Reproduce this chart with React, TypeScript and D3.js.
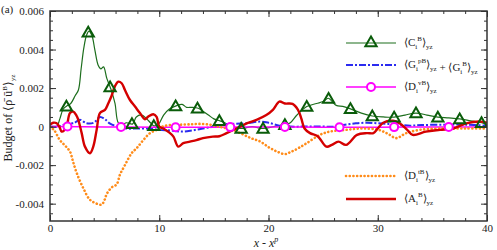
import React, { useRef, useEffect } from "react";
import * as d3 from "d3";

// budget terms along x - x^p
const cX = [0, 0.6, 0.9, 1.2, 1.53, 1.9, 2.3, 2.6, 2.85, 3.1, 3.35, 3.57, 3.85, 4.1, 4.4, 4.65, 4.9, 5.2, 5.58, 5.95, 6.25, 6.6, 7.0, 7.57, 7.9, 8.4, 8.85, 9.2, 9.5, 9.9, 10.4, 10.9, 11.6, 12.1, 12.5, 13.0, 13.57, 14.0, 14.5, 15.0, 15.55, 16.0, 16.6, 17.5, 18.5, 19.5, 20.5, 21.5, 22.0, 22.6, 23.5, 24.4, 25.0, 25.47, 26.2, 26.8, 27.5, 28.5, 29.5, 30.5, 31.5, 32.5, 33.5, 34.5, 35.5, 36.5, 37.5, 38.5, 39.5, 40];
const cV = [0, 0, 0.0004, 0.0009, 0.00107, 0.0012, 0.0016, 0.0019, 0.003, 0.0041, 0.00475, 0.00496, 0.0047, 0.004, 0.0032, 0.003, 0.0031, 0.0025, 0.00194, 0.0012, 0.0002, 0.0001, 0.0002, 0.00014, 0.0005, 0.0006, 0.0004, 0.0002, 0.00004, 0.0001, 0.0006, 0.0009, 0.00109, 0.00115, 0.001, 0.001, 0.00095, 0.0008, 0.0006, 0.0004, 0.0003, 0.0002, 0, -0.0001, 0, -0.0001, 0, 0.0001, 0.0002, 0.0006, 0.00104, 0.0012, 0.0013, 0.00147, 0.0011, 0.00105, 0.00092, 0.0007, 0.00055, 0.0005, 0.00049, 0.0006, 0.0007, 0.0006, 0.00049, 0.00045, 0.0004, 0.0003, 0.0002, 0.0001];

const gX = [0, 0.8, 1.3, 1.8, 2.13, 2.74, 3.35, 4.0, 4.57, 5.0, 5.5, 6.2, 7.0, 8.0, 9.0, 10.0, 11.0, 12.0, 13.0, 14.0, 15.0, 16.0, 17.0, 18.0, 19.2, 20.0, 21.0, 22.0, 23.0, 24.0, 25.0, 26.0, 27.0, 28.0, 29.0, 30.0, 31.0, 32.0, 33.0, 34.0, 36.0, 38.0, 40.0];
const gV = [0, 0, 0.0001, 0.0002, 0.00017, 0.00035, 0.00017, 0.0002, 0.0005, 0.0004, 0.00015, 0, -0.0001, -0.0001, -0.0001, -0.00017, -0.0002, -0.00026, -0.0002, -0.0001, 0, 0.0001, 0.00015, 0.00017, 0.00026, 0.0002, 0.00005, 0, 0, 0, 0, 0, 0.0001, 0.00017, 0.0002, 0.00017, 0.00014, 0.0001, 0.00005, 0.00008, 0.0001, 0.0001, 0.00005];

const dvX = [0, 5, 10, 15, 20, 25, 30, 35, 40];
const dvV = [0.00001, -0.00002, -0.00003, -0.00003, -0.00002, -0.00003, -0.00003, -0.00002, -0.00002];

const dtX = [0, 0.4, 0.9, 1.4, 1.83, 2.1, 2.44, 3.05, 3.66, 4.27, 4.73, 5.0, 5.19, 5.64, 6.1, 6.4, 6.86, 7.47, 7.93, 8.54, 9.15, 9.76, 10.3, 11.0, 12.0, 13.0, 13.7, 14.6, 15.4, 16.2, 17.4, 18.4, 19.25, 20.1, 20.8, 21.5, 22.1, 22.8, 23.5, 24.7, 25.6, 27.1, 28.6, 30.1, 31.0, 31.7, 32.6, 33.85, 35.7, 38, 40];
const dtV = [0, -0.0002, -0.0007, -0.001, -0.0013, -0.0018, -0.0024, -0.0032, -0.0038, -0.004, -0.00405, -0.0038, -0.0035, -0.00316, -0.003, -0.0025, -0.002, -0.00138, -0.00112, -0.0007, -0.00034, -0.00017, 0, 0.00008, 0.0001, 0.00012, 0.00014, 0.0001, 0, -0.0001, -0.00034, -0.0006, -0.00078, -0.0011, -0.0013, -0.00143, -0.0013, -0.0011, -0.00086, -0.00043, -0.00026, -0.00017, -0.0001, -0.00017, -0.0004, -0.0006, -0.00034, -0.00017, -0.0001, -0.0001, -0.0001];

const aX = [0, 0.3, 0.61, 0.85, 1.07, 1.3, 1.52, 1.83, 2.13, 2.4, 2.59, 2.9, 3.2, 3.66, 3.96, 4.27, 4.57, 5.03, 5.33, 5.64, 5.95, 6.25, 6.56, 6.86, 7.32, 7.78, 8.23, 8.69, 9.0, 9.45, 9.76, 10.0, 10.37, 10.9, 11.3, 11.74, 12.2, 12.8, 13.4, 14.0, 14.9, 15.5, 16.16, 17.07, 18.0, 18.9, 19.8, 20.4, 21.0, 21.5, 22.2, 22.7, 23.0, 23.3, 23.8, 24.5, 25.3, 25.8, 26.4, 27.1, 28.1, 29.0, 29.6, 30.0, 30.5, 31.4, 32.0, 32.7, 33.2, 34.4, 35.7, 36.9, 38.1, 39.4, 40];
const aV = [0.0001, 0.0002, 0.00017, 0, -0.00026, -0.0002, 0, 0.0007, 0.00078, 0.0006, 0.00035, -0.00034, -0.00104, -0.00138, -0.00104, -0.00017, 0.0007, 0.00087, 0.0012, 0.0016, 0.0021, 0.00233, 0.00225, 0.0019, 0.00138, 0.00104, 0.0007, 0.00038, 0.00052, 0.00064, 0.0005, 0, -0.0001, -0.0003, -0.00052, -0.00104, -0.00086, -0.00078, -0.0007, -0.0006, -0.00052, -0.0005, -0.00034, -0.0001, 0.00017, 0.00035, 0.0006, 0.00087, 0.0013, 0.0012, 0.00118, 0.00087, 0.00043, -0.0001, -0.00034, -0.0005, -0.00104, -0.00095, -0.00078, -0.00095, -0.00043, -0.00034, -0.00034, -0.0001, 0.0002, 0.0003, 0.00017, -0.00017, -0.00043, -0.00026, -0.00017, -0.0001, 0.00017, 0.00026, 0.0002];

// where the symbols sit on the lines
const triangleX = [1.5, 3.5, 5.5, 7.5, 9.5, 11.5, 13.5, 15.5, 17.5, 19.5, 21.5, 23.5, 25.5, 27.5, 29.5, 31.5, 33.5, 35.5, 37.5, 39.5];
const circleX = [1.6, 6.5, 11.5, 16.5, 21.5, 26.5, 31.5, 36.5];

const xTicks = [0, 10, 20, 30, 40];
const yTicks = [-0.004, -0.002, 0, 0.002, 0.004, 0.006];

const W = 497;
const H = 250;
const m = { left: 50, right: 10, top: 11, bottom: 29 };

function interp(xs, vs, x) {
  const i = Math.max(1, d3.bisectLeft(xs, x));
  const t = (x - xs[i - 1]) / (xs[i] - xs[i - 1]);
  return vs[i - 1] + t * (vs[i] - vs[i - 1]);
}

function App() {
  const svgRef = useRef();

  useEffect(() => {
    const svg = d3.select(svgRef.current);
    svg.selectAll("*").remove();

    const x = d3.scaleLinear().domain([0, 40]).range([m.left, W - m.right]);
    const y = d3.scaleLinear().domain([-0.0049, 0.006]).range([H - m.bottom, m.top]);

    svg.append("defs").append("clipPath").attr("id", "plotclip")
      .append("rect")
      .attr("x", m.left).attr("y", m.top)
      .attr("width", W - m.left - m.right).attr("height", H - m.top - m.bottom);

    const plot = svg.append("g").attr("clip-path", "url(#plotclip)");
    const line = d3.line().curve(d3.curveCatmullRom.alpha(0.5)).x((d) => x(d[0])).y((d) => y(d[1]));
    const pts = (xs, vs) => xs.map((v, i) => [v, vs[i]]);

    const series = [
      { xs: cX, vs: cV, color: "#1d6e1d", w: 1.2, dash: null, cap: "butt" },
      { xs: gX, vs: gV, color: "#2b2bf0", w: 2, dash: "7,2,2,2", cap: "butt" },
      { xs: dvX, vs: dvV, color: "#ff00ff", w: 1.5, dash: null, cap: "butt" },
      { xs: dtX, vs: dtV, color: "#ff8c1a", w: 2.6, dash: "0.1,3.6", cap: "round" },
      { xs: aX, vs: aV, color: "#d40000", w: 2.4, dash: null, cap: "butt" },
    ];
    series.forEach((s) => {
      plot.append("path")
        .attr("d", line(pts(s.xs, s.vs)))
        .attr("fill", "none")
        .attr("stroke", s.color)
        .attr("stroke-width", s.w)
        .attr("stroke-dasharray", s.dash)
        .attr("stroke-linecap", s.cap);
    });

    const tri = d3.symbol().type(d3.symbolTriangle).size(55);
    plot.selectAll(".tri")
      .data(triangleX)
      .join("path")
      .attr("class", "tri")
      .attr("d", tri())
      .attr("transform", (d) => `translate(${x(d)},${y(interp(cX, cV, d)) + 1})`)
      .attr("fill", "none")
      .attr("stroke", "#0a5c0a")
      .attr("stroke-width", 2);

    plot.selectAll(".circ")
      .data(circleX)
      .join("circle")
      .attr("class", "circ")
      .attr("cx", (d) => x(d))
      .attr("cy", (d) => y(interp(dvX, dvV, d)))
      .attr("r", 4)
      .attr("fill", "white")
      .attr("stroke", "#ff00ff")
      .attr("stroke-width", 2);

    // axes, ticks pointing inward on all four sides
    const fmt = (d) => (d === 0 ? "0" : d.toFixed(3));
    const minorX = d3.range(0, 40.01, 2);
    const minorY = d3.range(-0.0045, 0.0060001, 0.0005);
    const styleAxis = (g) => {
      g.select(".domain").remove();
      g.selectAll("line").attr("stroke", "#333").attr("stroke-width", 1);
      g.selectAll("text").attr("font-family", "Liberation Serif, serif").attr("font-size", 11).attr("fill", "#222");
    };
    svg.append("g").attr("transform", `translate(0,${H - m.bottom})`)
      .call(d3.axisBottom(x).tickValues(minorX).tickSize(-3).tickFormat(() => "")).call(styleAxis);
    svg.append("g").attr("transform", `translate(0,${H - m.bottom})`)
      .call(d3.axisBottom(x).tickValues(xTicks).tickSize(-6).tickPadding(3)).call(styleAxis);
    svg.append("g").attr("transform", `translate(0,${m.top})`)
      .call(d3.axisTop(x).tickValues(minorX).tickSize(-3).tickFormat(() => "")).call(styleAxis);
    svg.append("g").attr("transform", `translate(0,${m.top})`)
      .call(d3.axisTop(x).tickValues(xTicks).tickSize(-6).tickFormat(() => "")).call(styleAxis);
    svg.append("g").attr("transform", `translate(${m.left},0)`)
      .call(d3.axisLeft(y).tickValues(minorY).tickSize(-3).tickFormat(() => "")).call(styleAxis);
    svg.append("g").attr("transform", `translate(${m.left},0)`)
      .call(d3.axisLeft(y).tickValues(yTicks).tickSize(-6).tickPadding(6).tickFormat(fmt)).call(styleAxis);
    svg.append("g").attr("transform", `translate(${W - m.right},0)`)
      .call(d3.axisRight(y).tickValues(minorY).tickSize(-3).tickFormat(() => "")).call(styleAxis);
    svg.append("g").attr("transform", `translate(${W - m.right},0)`)
      .call(d3.axisRight(y).tickValues(yTicks).tickSize(-6).tickFormat(() => "")).call(styleAxis);

    svg.append("rect")
      .attr("x", m.left).attr("y", m.top)
      .attr("width", W - m.left - m.right).attr("height", H - m.top - m.bottom)
      .attr("fill", "none").attr("stroke", "#333").attr("stroke-width", 1.5);

    // legend
    const legend = [
      { s: 0, y: 43, sym: "tri", base: "C", sup: "B", mid: 371 },
      { s: 1, y: 65, sym: null, base: "G", sup: "pB", extra: true },
      { s: 2, y: 87, sym: "circ", base: "D", sup: "vB", mid: 371 },
      { s: 3, y: 176, sym: null, base: "D", sup: "tB" },
      { s: 4, y: 199, sym: null, base: "A", sup: "B" },
    ];
    const serif = "Liberation Serif, serif";
    const bracket = (t, base, sup) => {
      t.append("tspan").text("\u27E8" + base);
      t.append("tspan").attr("font-size", 7).attr("dy", 3).text("i");
      t.append("tspan").attr("font-size", 7).attr("dy", -8).attr("dx", 0).text(sup);
      t.append("tspan").attr("dy", 5).text("\u27E9");
      t.append("tspan").attr("font-size", 7).attr("dy", 3).text("yz");
      t.append("tspan").attr("dy", -3).text("");
    };
    legend.forEach((l) => {
      const s = series[l.s];
      svg.append("line")
        .attr("x1", 346).attr("x2", 396).attr("y1", l.y).attr("y2", l.y)
        .attr("stroke", s.color).attr("stroke-width", s.w)
        .attr("stroke-dasharray", s.dash).attr("stroke-linecap", s.cap);
      if (l.sym === "tri") {
        svg.append("path").attr("d", tri()).attr("transform", `translate(${l.mid},${l.y})`)
          .attr("fill", "none").attr("stroke", "#0a5c0a").attr("stroke-width", 2);
      }
      if (l.sym === "circ") {
        svg.append("circle").attr("cx", l.mid).attr("cy", l.y).attr("r", 4)
          .attr("fill", "white").attr("stroke", "#ff00ff").attr("stroke-width", 2);
      }
      const t = svg.append("text").attr("x", 404).attr("y", l.y + 3)
        .attr("font-family", serif).attr("font-size", 11).attr("fill", "#222");
      bracket(t, l.base, l.sup);
      if (l.extra) {
        t.append("tspan").text(" + ");
        bracket(t, "G", "B");
      }
    });

    // axis titles
    const xt = svg.append("text").attr("x", 266).attr("y", 247)
      .attr("text-anchor", "middle").attr("font-family", serif).attr("font-size", 12).attr("fill", "#222");
    xt.append("tspan").attr("font-style", "italic").text("x");
    xt.append("tspan").text(" - ");
    xt.append("tspan").attr("font-style", "italic").text("x");
    xt.append("tspan").attr("font-size", 8).attr("dy", -5).attr("font-style", "italic").text("p");

    const yt = svg.append("text")
      .attr("transform", "translate(12,118) rotate(-90)")
      .attr("text-anchor", "middle").attr("font-family", serif).attr("font-size", 12).attr("fill", "#222");
    yt.append("tspan").text("Budget of \u27E8\u03C1\u0304 u\u0304");
    yt.append("tspan").attr("font-size", 7).attr("dy", -5).text("B");
    yt.append("tspan").attr("dy", 5).text("\u27E9");
    yt.append("tspan").attr("font-size", 7).attr("dy", 3).text("yz");

    svg.append("text").attr("x", 1).attr("y", 13)
      .attr("font-family", serif).attr("font-size", 11).attr("fill", "#222").text("(a)");
  }, []);

  return (
    <svg
      ref={svgRef}
      width={W}
      height={H}
      style={{ position: "absolute", left: 0, top: 0, background: "white" }}
    ></svg>
  );
}

export default App;
